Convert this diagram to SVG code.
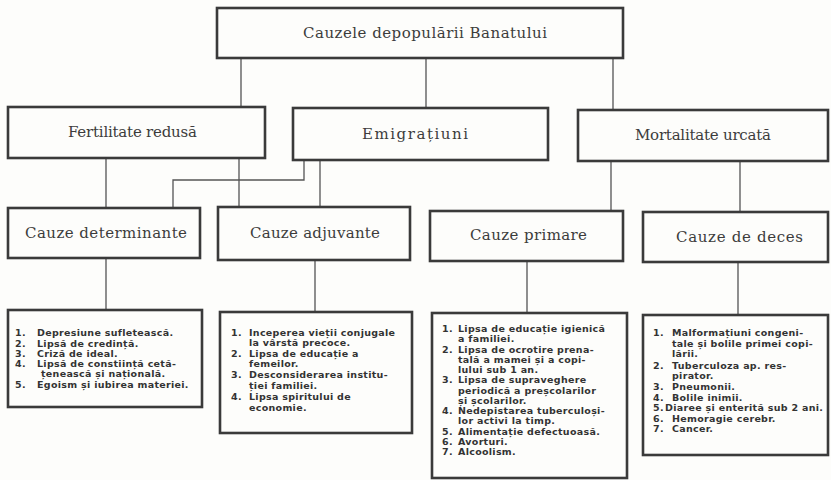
<svg xmlns="http://www.w3.org/2000/svg" width="831" height="480" viewBox="0 0 831 480">
<style>
.box{fill:none;stroke:#3a3a3a;stroke-width:2.6}
.con{fill:none;stroke:#555;stroke-width:1.3}
.hd{font-family:"DejaVu Serif","Liberation Serif",serif;font-size:15px;fill:#3c3c3c}
.li{font-family:"DejaVu Sans","Liberation Sans",sans-serif;font-weight:bold;font-size:9.5px;letter-spacing:0.3px;fill:#333}
</style>
<rect width="831" height="480" fill="#fdfdfb"/>
<g id="connectors">
<path class="con" d="M241 58V107M426 58V108M613 58V110"/>
<path class="con" d="M106 158V208M239 158V207"/>
<path class="con" d="M304 160V180H173V208M320 160V207"/>
<path class="con" d="M611 161V211M740 161V212"/>
<path class="con" d="M106 258V310M315 260V312M527 261V313M738 262V315"/>
</g>
<g id="n-root"><rect class="box" x="217" y="8" width="406" height="50"/><text class="hd" x="303" y="38" textLength="244" lengthAdjust="spacing">Cauzele depopulării Banatului</text></g>
<g id="n-fert"><rect class="box" x="8" y="107" width="257" height="51"/><text class="hd" x="68" y="137" textLength="129" lengthAdjust="spacing">Fertilitate redusă</text></g>
<g id="n-emig"><rect class="box" x="293" y="108" width="255" height="52"/><text class="hd" x="362" y="139" textLength="106" lengthAdjust="spacing">Emigrațiuni</text></g>
<g id="n-mort"><rect class="box" x="578" y="110" width="250" height="51"/><text class="hd" x="635" y="140" textLength="136" lengthAdjust="spacing">Mortalitate urcată</text></g>
<g id="n-det"><rect class="box" x="8" y="208" width="192" height="50"/><text class="hd" x="25" y="238" textLength="162" lengthAdjust="spacing">Cauze determinante</text></g>
<g id="n-adj"><rect class="box" x="218" y="207" width="192" height="53"/><text class="hd" x="250" y="238" textLength="130" lengthAdjust="spacing">Cauze adjuvante</text></g>
<g id="n-prim"><rect class="box" x="430" y="211" width="193" height="50"/><text class="hd" x="470" y="240" textLength="117" lengthAdjust="spacing">Cauze primare</text></g>
<g id="n-dec"><rect class="box" x="643" y="212" width="185" height="50"/><text class="hd" x="676" y="242" textLength="127" lengthAdjust="spacing">Cauze de deces</text></g>
<g id="n-list1"><rect class="box" x="8" y="310" width="194" height="97"/>
<text class="li"><tspan x="15" y="336">1.</tspan><tspan x="37">Depresiune sufletească.</tspan>
<tspan x="15" y="347">2.</tspan><tspan x="37">Lipsă de credință.</tspan>
<tspan x="15" y="357">3.</tspan><tspan x="37">Criză de ideal.</tspan>
<tspan x="15" y="367">4.</tspan><tspan x="37">Lipsă de constiință cetă-</tspan>
<tspan x="41" y="377">țenească și națională.</tspan>
<tspan x="15" y="388">5.</tspan><tspan x="37">Egoism și iubirea materiei.</tspan></text></g>
<g id="n-list2"><rect class="box" x="220" y="312" width="192" height="121"/>
<text class="li"><tspan x="231" y="336">1.</tspan><tspan x="249">Inceperea vieții conjugale</tspan>
<tspan x="249" y="346">la vârstă precoce.</tspan>
<tspan x="231" y="357">2.</tspan><tspan x="249">Lipsa de educație a</tspan>
<tspan x="249" y="367">femeilor.</tspan>
<tspan x="231" y="378">3.</tspan><tspan x="249">Desconsiderarea institu-</tspan>
<tspan x="249" y="389">ției familiei.</tspan>
<tspan x="231" y="400">4.</tspan><tspan x="249">Lipsa spiritului de</tspan>
<tspan x="249" y="411">economie.</tspan></text></g>
<g id="n-list3"><rect class="box" x="432" y="313" width="195" height="165"/>
<text class="li"><tspan x="442" y="332">1.</tspan><tspan x="458">Lipsa de educație igienică</tspan>
<tspan x="458" y="342.3">a familiei.</tspan>
<tspan x="442" y="352.5">2.</tspan><tspan x="458">Lipsa de ocrotire prena-</tspan>
<tspan x="458" y="362.8">tală a mamei și a copi-</tspan>
<tspan x="458" y="373">lului sub 1 an.</tspan>
<tspan x="442" y="383.3">3.</tspan><tspan x="458">Lipsa de supraveghere</tspan>
<tspan x="458" y="393.5">periodică a preșcolarilor</tspan>
<tspan x="458" y="403.8">și școlarilor.</tspan>
<tspan x="442" y="414">4.</tspan><tspan x="458">Nedepistarea tuberculoși-</tspan>
<tspan x="458" y="424.3">lor activi la timp.</tspan>
<tspan x="442" y="434.5">5.</tspan><tspan x="458">Alimentație defectuoasă.</tspan>
<tspan x="442" y="444.8">6.</tspan><tspan x="458">Avorturi.</tspan>
<tspan x="442" y="455">7.</tspan><tspan x="458">Alcoolism.</tspan></text></g>
<g id="n-list4"><rect class="box" x="643" y="315" width="185" height="140"/>
<text class="li"><tspan x="653" y="336">1.</tspan><tspan x="672">Malformațiuni congeni-</tspan>
<tspan x="672" y="347">tale și bolile primei copi-</tspan>
<tspan x="672" y="357">lării.</tspan>
<tspan x="653" y="369">2.</tspan><tspan x="672">Tuberculoza ap. res-</tspan>
<tspan x="672" y="379">pirator.</tspan>
<tspan x="653" y="390">3.</tspan><tspan x="672">Pneumonii.</tspan>
<tspan x="653" y="401">4.</tspan><tspan x="672">Bolile inimii.</tspan>
<tspan x="653" y="411">5.</tspan><tspan x="665">Diaree și enterită sub 2 ani.</tspan>
<tspan x="653" y="422">6.</tspan><tspan x="672">Hemoragie cerebr.</tspan>
<tspan x="653" y="432">7.</tspan><tspan x="672">Cancer.</tspan></text></g>
</svg>
